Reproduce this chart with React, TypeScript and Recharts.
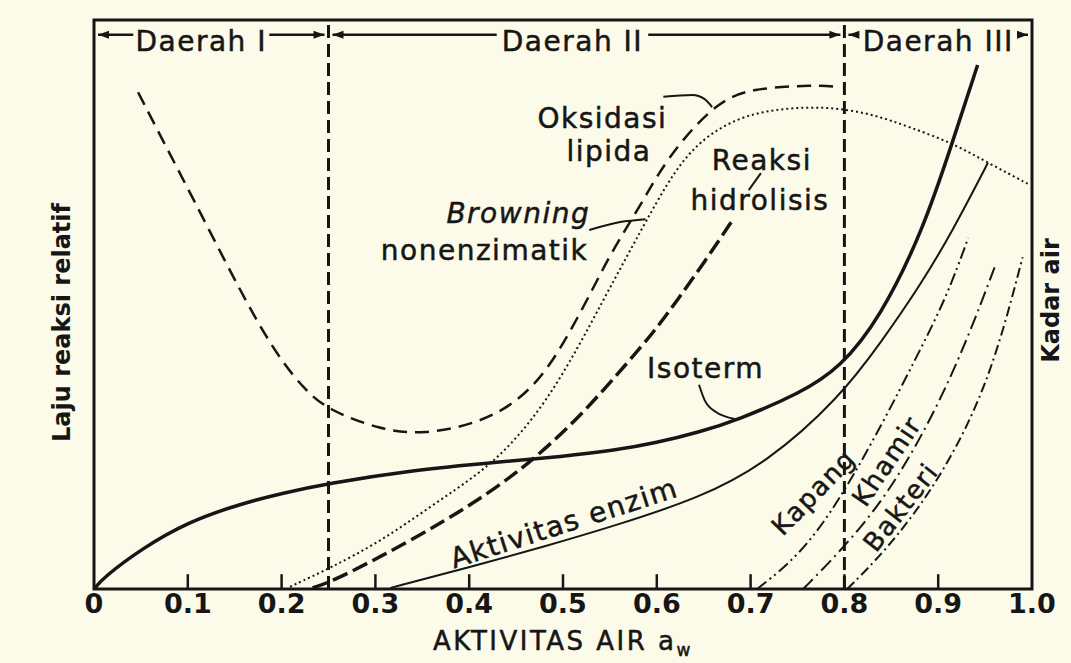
import React from 'react'
import { LineChart, Line, XAxis, YAxis, ReferenceLine, ReferenceArea, ReferenceDot } from 'recharts'

// water activity (x) vs relative reaction rate (y, 0..100)
const isoterm = [
  { x: 0, y: 0 }, { x: 0.01, y: 2.0 }, { x: 0.05, y: 7.0 }, { x: 0.1, y: 11.8 },
  { x: 0.157, y: 15.0 }, { x: 0.2, y: 16.8 }, { x: 0.248, y: 18.5 }, { x: 0.34, y: 20.9 },
  { x: 0.43, y: 22.3 }, { x: 0.5, y: 23.3 }, { x: 0.553, y: 24.3 }, { x: 0.6, y: 25.7 },
  { x: 0.646, y: 27.6 }, { x: 0.686, y: 29.7 }, { x: 0.753, y: 34.4 }, { x: 0.795, y: 38.8 },
  { x: 0.838, y: 47.6 }, { x: 0.884, y: 63.1 }, { x: 0.915, y: 78.4 }, { x: 0.942, y: 92.1 },
]

const oksidasi = [
  { x: 0.047, y: 87.3 }, { x: 0.076, y: 78.0 }, { x: 0.106, y: 68.5 }, { x: 0.14, y: 57.5 },
  { x: 0.172, y: 47.5 }, { x: 0.2, y: 40.0 }, { x: 0.225, y: 35.0 }, { x: 0.249, y: 31.5 },
  { x: 0.305, y: 28.0 }, { x: 0.351, y: 27.1 }, { x: 0.412, y: 29.2 }, { x: 0.454, y: 33.2 },
  { x: 0.483, y: 38.5 }, { x: 0.507, y: 45.0 }, { x: 0.531, y: 52.5 }, { x: 0.549, y: 58.3 },
  { x: 0.568, y: 63.6 }, { x: 0.586, y: 68.4 }, { x: 0.6, y: 72.6 }, { x: 0.627, y: 79.0 },
  { x: 0.665, y: 85.5 }, { x: 0.699, y: 88.0 }, { x: 0.77, y: 88.6 }, { x: 0.795, y: 88.2 },
]

const browning = [
  { x: 0.209, y: 0.4 }, { x: 0.252, y: 3.7 }, { x: 0.305, y: 8.3 }, { x: 0.358, y: 14.4 },
  { x: 0.412, y: 20.4 }, { x: 0.447, y: 25.7 }, { x: 0.483, y: 33.2 }, { x: 0.516, y: 42.4 },
  { x: 0.543, y: 50.8 }, { x: 0.566, y: 57.8 }, { x: 0.588, y: 64.5 }, { x: 0.619, y: 73.6 },
  { x: 0.648, y: 79.1 }, { x: 0.686, y: 82.8 }, { x: 0.722, y: 84.2 }, { x: 0.759, y: 84.7 },
  { x: 0.795, y: 84.5 }, { x: 0.833, y: 83.3 }, { x: 0.869, y: 81.2 }, { x: 0.915, y: 78.4 },
  { x: 0.953, y: 74.9 }, { x: 0.998, y: 71.0 },
]

const hidrolisis = [
  { x: 0.233, y: 0.2 }, { x: 0.252, y: 1.2 }, { x: 0.305, y: 5.6 }, { x: 0.376, y: 12.1 },
  { x: 0.43, y: 17.9 }, { x: 0.468, y: 22.7 }, { x: 0.518, y: 30.2 }, { x: 0.571, y: 40.2 },
  { x: 0.597, y: 45.2 }, { x: 0.622, y: 50.8 }, { x: 0.651, y: 57.5 }, { x: 0.681, y: 64.9 },
]

const enzim = [
  { x: 0.316, y: 0.2 }, { x: 0.398, y: 3.7 }, { x: 0.483, y: 7.6 }, { x: 0.553, y: 11.0 },
  { x: 0.646, y: 16.0 }, { x: 0.717, y: 22.1 }, { x: 0.795, y: 33.6 }, { x: 0.841, y: 43.8 },
  { x: 0.881, y: 53.4 }, { x: 0.916, y: 63.1 }, { x: 0.953, y: 74.9 },
]

const kapang = [
  { x: 0.707, y: 0 }, { x: 0.753, y: 6.0 }, { x: 0.795, y: 15.6 }, { x: 0.841, y: 29.2 },
  { x: 0.877, y: 40.8 }, { x: 0.909, y: 51.3 }, { x: 0.932, y: 61.7 },
]

const khamir = [
  { x: 0.756, y: 0 }, { x: 0.795, y: 6.5 }, { x: 0.845, y: 16.2 }, { x: 0.894, y: 30.2 },
  { x: 0.931, y: 43.8 }, { x: 0.961, y: 56.9 },
]

const bakteri = [
  { x: 0.803, y: 0 }, { x: 0.845, y: 6.9 }, { x: 0.894, y: 17.4 }, { x: 0.937, y: 30.2 },
  { x: 0.966, y: 43.2 }, { x: 0.99, y: 58.3 },
]

// leader lines from labels to curves
const oksidasiLeader = [{ x: 0.607, y: 86.5 }, { x: 0.638, y: 86.8 }, { x: 0.651, y: 86.1 }, { x: 0.659, y: 84.7 }]
const browningLeader = [{ x: 0.528, y: 63.1 }, { x: 0.561, y: 64.5 }, { x: 0.588, y: 65.0 }]
const hidrolisisLeader = [{ x: 0.698, y: 70.1 }, { x: 0.711, y: 73.1 }]
const isotermLeader = [{ x: 0.645, y: 35.9 }, { x: 0.651, y: 33.2 }, { x: 0.663, y: 31.1 }, { x: 0.683, y: 29.9 }]

const xTicks = [0, 0.1, 0.2, 0.3, 0.4, 0.5, 0.6, 0.7, 0.8, 0.9, 1.0]
const innerTicks = [0.1, 0.2, 0.3, 0.4, 0.5, 0.6, 0.7, 0.8, 0.9]
const regionBounds = [0, 0.25, 0.8, 1.0]
const regionNames = ['Daerah I', 'Daerah II', 'Daerah III']
const regionLabelShift = [-10, -14, 0]

const notes = [
  { x: 0.542, y: 82.8, text: 'Oksidasi' },
  { x: 0.549, y: 77.0, text: 'lipida' },
  { x: 0.529, y: 66.1, text: 'Browning', italic: true, anchor: 'end' },
  { x: 0.527, y: 59.6, text: 'nonenzimatik', anchor: 'end' },
  { x: 0.712, y: 75.4, text: 'Reaksi' },
  { x: 0.71, y: 68.4, text: 'hidrolisis' },
  { x: 0.652, y: 38.8, text: 'Isoterm' },
  { x: 0.501, y: 11.6, text: 'Aktivitas enzim', angle: -17.8 },
  { x: 0.767, y: 17.0, text: 'Kapang', angle: -46, size: 26 },
  { x: 0.845, y: 22.5, text: 'Khamir', angle: -56, size: 26 },
  { x: 0.86, y: 14.4, text: 'Bakteri', angle: -52, size: 26 },
]

const INK = '#161616'
const BG = '#fcfbe9'
const FONT = '"DejaVu Sans", sans-serif'
const HEADER_Y = 97.4

const NoteText = ({ cx, cy, note }: any) => (
  <text
    x={cx}
    y={cy}
    dy="0.35em"
    textAnchor={note.anchor || 'middle'}
    fontFamily={FONT}
    fontSize={note.size || 28}
    fontStyle={note.italic ? 'italic' : 'normal'}
    letterSpacing={1.5}
    fill={INK}
    stroke={INK}
    strokeWidth={0.5}
    transform={note.angle ? `rotate(${note.angle} ${cx} ${cy})` : undefined}
  >
    {note.text}
  </text>
)

const arrowHead = (tipX: number, y: number, dir: number) => (
  <polygon points={`${tipX},${y} ${tipX - dir * 11},${y - 4} ${tipX - dir * 11},${y + 4}`} fill={INK} />
)

const RegionHeader = ({ x1, x2, y1, name, shift }: any) => {
  const cx = (x1 + x2) / 2 + shift
  const half = (name.length * 15.5) / 2 + 6
  const left = x1 + 4
  const right = x2 - 4
  return (
    <g>
      <line x1={left} y1={y1} x2={cx - half} y2={y1} stroke={INK} strokeWidth={2.5} />
      <line x1={cx + half} y1={y1} x2={right} y2={y1} stroke={INK} strokeWidth={2.5} />
      {arrowHead(left, y1, -1)}
      {arrowHead(right, y1, 1)}
      <text x={cx} y={y1 + 6} dy="0.35em" textAnchor="middle" fontFamily={FONT} fontSize={28} letterSpacing={1.5} fill={INK} stroke={INK} strokeWidth={0.5}>
        {name}
      </text>
    </g>
  )
}

const XTick = ({ x, y, payload }: any) => (
  <text x={x} y={y + 15} dy="0.35em" textAnchor="middle" fontFamily={FONT} fontWeight="bold" fontSize={27} fill={INK}>
    {payload.value === 0 ? '0' : Number(payload.value).toFixed(1)}
  </text>
)

const XTitle = ({ viewBox }: any) => (
  <text x={viewBox.x + viewBox.width / 2} y={viewBox.y + 61} textAnchor="middle" fontFamily={FONT} fontSize={26} letterSpacing={2.5} fill={INK} stroke={INK} strokeWidth={0.5}>
    AKTIVITAS AIR a<tspan dy={6} fontSize={17}>w</tspan>
  </text>
)

const YTitle = ({ viewBox }: any) => {
  const cx = viewBox.x + 62
  const cy = viewBox.y + viewBox.height / 2 + 18
  return (
    <text x={cx} y={cy} dy="0.35em" textAnchor="middle" fontFamily={FONT} fontWeight="bold" fontSize={24} fill={INK} transform={`rotate(-90 ${cx} ${cy})`}>
      Laju reaksi relatif
    </text>
  )
}

const RightTitle = ({ viewBox }: any) => {
  const cx = viewBox.x + 19
  const cy = viewBox.y + viewBox.height / 2 - 4
  return (
    <text x={cx} y={cy} dy="0.35em" textAnchor="middle" fontFamily={FONT} fontWeight="bold" fontSize={24} fill={INK} transform={`rotate(-90 ${cx} ${cy})`}>
      Kadar air
    </text>
  )
}

const curve = (data: any[], width: number, dash?: string, kind: any = 'basis') => (
  <Line
    data={data}
    dataKey="y"
    type={kind}
    stroke={INK}
    strokeWidth={width}
    strokeDasharray={dash}
    dot={false}
    activeDot={false}
    isAnimationActive={false}
  />
)

const App = () => {
  return (
    <div style={{ position: 'absolute', left: 0, top: 0, width: 1071, height: 663, background: BG }}>
      <LineChart width={1071} height={663} margin={{ top: 20, right: 0, bottom: 0, left: 0 }}>
        <XAxis
          dataKey="x"
          type="number"
          domain={[0, 1]}
          ticks={xTicks}
          height={74}
          axisLine={false}
          tickLine={false}
          tickSize={0}
          tickMargin={0}
          tick={<XTick />}
          label={XTitle}
        />
        <YAxis domain={[0, 100]} width={94} axisLine={false} tickLine={false} tick={false} label={YTitle} />
        <YAxis yAxisId="r" orientation="right" domain={[0, 100]} width={39} axisLine={false} tickLine={false} tick={false} label={RightTitle} />

        <ReferenceArea x1={0} x2={1} y1={0} y2={100} fill="none" stroke={INK} strokeWidth={3} />
        <ReferenceLine x={regionBounds[1]} stroke={INK} strokeWidth={3} strokeDasharray="13 6" />
        <ReferenceLine x={regionBounds[2]} stroke={INK} strokeWidth={3} strokeDasharray="13 6" />
        {innerTicks.map((t) => (
          <ReferenceLine key={t} segment={[{ x: t, y: 0 }, { x: t, y: 2.6 }]} stroke={INK} strokeWidth={2.5} />
        ))}
        {regionNames.map((name, i) => (
          <ReferenceLine
            key={name}
            segment={[{ x: regionBounds[i], y: HEADER_Y }, { x: regionBounds[i + 1], y: HEADER_Y }]}
            shape={(p: any) => <RegionHeader {...p} name={name} shift={regionLabelShift[i]} />}
          />
        ))}

        {curve(isoterm, 3.5)}
        {curve(oksidasi, 2.5, '14 8')}
        {curve(browning, 2, '2 3')}
        {curve(hidrolisis, 3.5, '16 6')}
        {curve(enzim, 2)}
        {curve(kapang, 2, '12 4 2 4 2 4')}
        {curve(khamir, 2, '14 5 2 5')}
        {curve(bakteri, 2, '10 4 2 4')}
        {curve(oksidasiLeader, 2, undefined, 'monotone')}
        {curve(browningLeader, 2, undefined, 'monotone')}
        {curve(hidrolisisLeader, 2, undefined, 'linear')}
        {curve(isotermLeader, 2, undefined, 'monotone')}

        {notes.map((n) => (
          <ReferenceDot key={n.text} x={n.x} y={n.y} r={0} shape={(p: any) => <NoteText {...p} note={n} />} />
        ))}
      </LineChart>
    </div>
  )
}

export default App
